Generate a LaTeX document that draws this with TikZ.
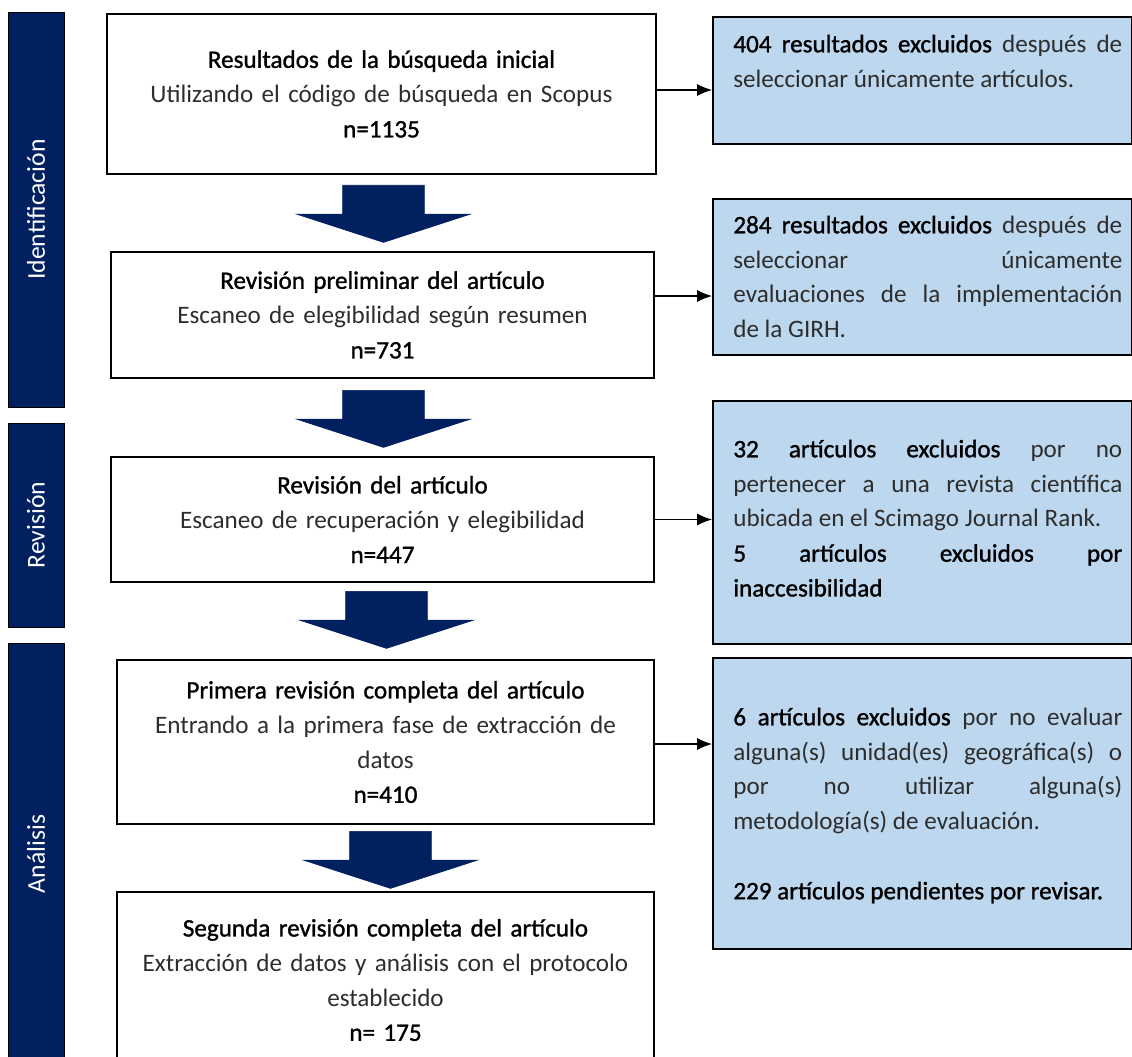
\documentclass[tikz,border=0pt]{standalone}
\usepackage{fontspec}
\setmainfont{Carlito}
\newfontfamily\gruesa[FakeBold=1.2]{Carlito}
\usetikzlibrary{arrows.meta,shapes.arrows,positioning}

\definecolor{azul}{RGB}{0,32,96}
\definecolor{celeste}{RGB}{189,215,238}
\definecolor{gristexto}{RGB}{45,45,45}
\newcommand{\fuerte}[1]{{\gruesa\color{black}#1}}

\tikzset{
	fase/.style={draw=black, fill=azul, text=white, rotate=90, minimum height=1.12cm, inner sep=0pt,
		font=\fontsize{14.6pt}{17pt}\selectfont},
	etapa/.style={draw=black, fill=white, line width=1pt, align=center, inner sep=0pt, text=gristexto,
		font=\fontsize{14.3pt}{19.8pt}\selectfont},
	excl/.style={draw=black, fill=celeste, line width=1pt, anchor=north west, minimum width=8.38cm, inner sep=0pt},
	nota/.style={anchor=north west, text width=7.78cm, align=justify, inner sep=0pt, text=gristexto,
		font=\fontsize{14.3pt}{19.8pt}\selectfont},
	bajada/.style={single arrow, fill=azul, draw=azul, rotate=-90, anchor=tail, inner xsep=0pt, inner ysep=0.81cm,
		minimum height=1.14cm, single arrow head extend=0.92cm, single arrow tip angle=144},
	flecha/.style={-{Latex[length=0.3cm,width=0.24cm]}, line width=0.6pt}
}

\begin{document}
\begin{tikzpicture}[x=0.02cm, y=-0.02cm]
	\path[use as bounding box, fill=white] (0,0) rectangle (1132,1057);
	\clip (0,0) rectangle (1132,1057);

	% fases
	\node[fase, minimum width=7.9cm]  (f1) at (36,209.5) {Identificación};
	\node[fase, minimum width=4.08cm] (f2) at (36,525)   {Revisión};
	\node[fase, minimum width=8.44cm] (f3) at (36,854)   {Análisis};

	% etapas
	\node[etapa, text width=10.98cm, minimum height=3.2cm]  (b1) at (381.5,94)  {\fuerte{Resultados de la búsqueda inicial}\\ Utilizando el código de búsqueda en Scopus\\ \fuerte{n=1135}};
	\node[etapa, text width=10.86cm, minimum height=2.52cm] (b2) at (382.5,315) {\fuerte{Revisión preliminar del artículo}\\ Escaneo de elegibilidad según resumen\\ \fuerte{n=731}};
	\node[etapa, text width=10.86cm, minimum height=2.5cm]  (b3) at (382.5,519.5) {\fuerte{Revisión del artículo}\\ Escaneo de recuperación y elegibilidad\\ \fuerte{n=447}};
	\node[etapa, text width=10.74cm, minimum height=3.28cm] (b4) at (385.5,742) {\fuerte{Primera revisión completa del artículo}\\ Entrando a la primera fase de extracción de\\ datos\\ \fuerte{n=410}};
	\node[etapa, text width=10.74cm, minimum height=3.52cm] (b5) at (385.5,980) {\fuerte{Segunda revisión completa del artículo}\\ Extracción de datos y análisis con el protocolo\\ establecido\\ \fuerte{n= 175}};

	% flechas grandes
	\node[bajada] (a1) at (383.5,185) {};
	\node[bajada] (a2) at (383.5,390) {};
	\node[bajada] (a3) at (386.5,591) {};
	\node[bajada] (a4) at (390.5,831) {};

	% excluidos
	\node[excl, minimum height=2.54cm] (r1) at (712,16)  {};
	\node[excl, minimum height=3.12cm] (r2) at (712,198) {};
	\node[excl, minimum height=4.86cm] (r3) at (712,400) {};
	\node[excl, minimum height=5.82cm] (r4) at (712,657) {};

	\node[nota] (t1) at (733,34.5)  {\fuerte{404 resultados excluidos} después de\linebreak seleccionar únicamente artículos.};
	\node[nota] (t2) at (733,215.5) {\fuerte{284 resultados excluidos} después de\linebreak seleccionar únicamente\linebreak evaluaciones de la implementación\linebreak de la GIRH.};
	\node[nota] (t3) at (733,439.5) {\fuerte{32 artículos excluidos} por no\linebreak pertenecer a una revista científica\linebreak ubicada en el Scimago Journal Rank.\par \fuerte{5 artículos excluidos por\linebreak inaccesibilidad}};
	\node[nota] (t4) at (733,707.5) {\fuerte{6 artículos excluidos} por no evaluar\linebreak alguna(s) unidad(es) geográfica(s) o\linebreak por no utilizar alguna(s)\linebreak metodología(s) de evaluación.\par\vspace{19.8pt}\fuerte{229 artículos pendientes por revisar.}};

	\draw[flecha] ([yshift=0.08cm]b1.east) -- ([yshift=0.08cm]b1.east -| r1.west);
	\draw[flecha] ([yshift=0.38cm]b2.east) -- ([yshift=0.38cm]b2.east -| r2.west);
	\draw[flecha] (b3.east) -- (b3.east -| r3.west);
	\draw[flecha] ([yshift=-0.04cm]b4.east) -- ([yshift=-0.04cm]b4.east -| r4.west);
\end{tikzpicture}
\end{document}
